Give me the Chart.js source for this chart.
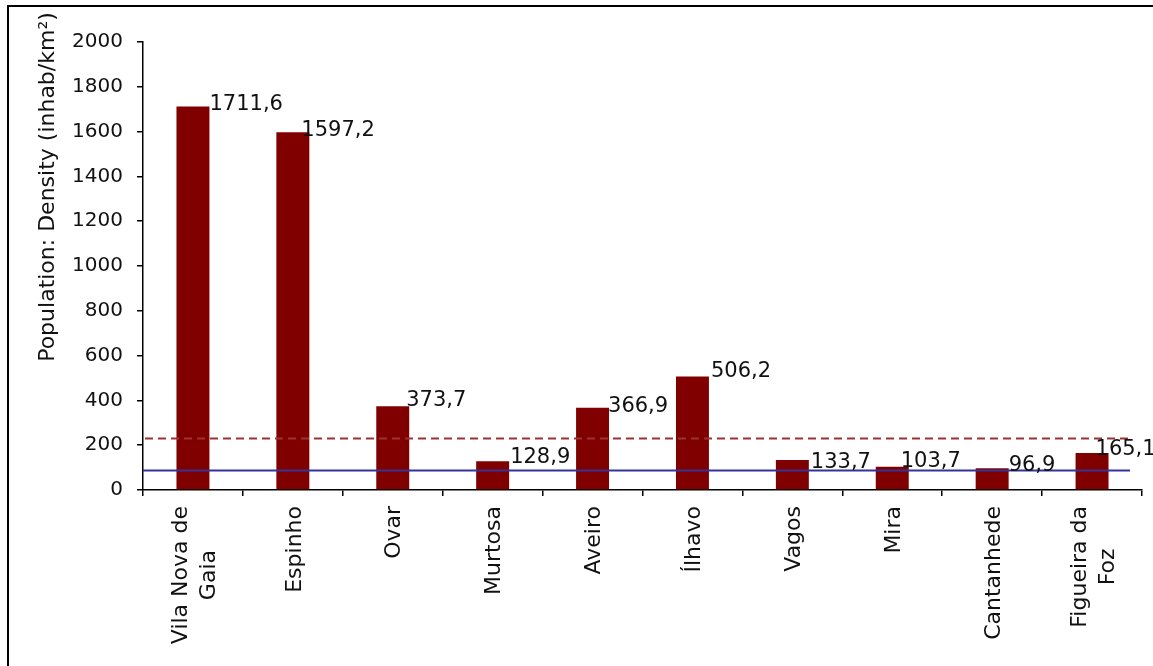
<!DOCTYPE html>
<html>
<head>
<meta charset="utf-8">
<script src="https://cdn.jsdelivr.net/npm/chart.js@4"></script>
<style>
  html, body { margin: 0; padding: 0; background: #fff; }
  canvas { display: block; }
</style>
</head>
<body>
<canvas id="c" width="1153" height="666" style="width:1153px;height:666px"></canvas>
<script>
// ---- data ----
const categories = [
  ['Vila Nova de', 'Gaia'], 'Espinho', 'Ovar', 'Murtosa', 'Aveiro',
  'Ílhavo', 'Vagos', 'Mira', 'Cantanhede', ['Figueira da', 'Foz']
];
const densityValues = [1711.6, 1597.2, 373.7, 128.9, 366.9, 506.2, 133.7, 103.7, 96.9, 165.1];
const valueLabels = ['1711,6', '1597,2', '373,7', '128,9', '366,9', '506,2', '133,7', '103,7', '96,9', '165,1'];
const yTickValues = [0, 200, 400, 600, 800, 1000, 1200, 1400, 1600, 1800, 2000];
const dashedRefValue = [232];
const solidRefValue = [89];
const yTitle = 'Population: Density (inhab/km²)';

const FONT = '"DejaVu Sans", Verdana, sans-serif';
Chart.defaults.font.family = FONT;
Chart.defaults.color = '#000';

const framePlugin = {
  id: 'frame',
  beforeDraw(chart) {
    const ctx = chart.ctx;
    ctx.save();
    ctx.fillStyle = '#fff';
    ctx.fillRect(0, 0, chart.width, chart.height);
    ctx.fillStyle = '#000';
    ctx.fillRect(7, 5, chart.width - 7, 2);
    ctx.fillRect(7, 5, 2, chart.height - 5);
    // y title
    ctx.translate(48, 187);
    ctx.rotate(-Math.PI / 2);
    ctx.font = '22px ' + FONT;
    ctx.textAlign = 'center';
    ctx.textBaseline = 'middle';
    ctx.fillStyle = '#111';
    ctx.fillText(yTitle, 0, 0);
    ctx.restore();
  }
};

const refLinesPlugin = {
  id: 'refLines',
  afterDatasetsDraw(chart) {
    const ctx = chart.ctx;
    const y = chart.scales.y;
    const a = chart.chartArea;
    const right = a.right - 12;
    ctx.save();
    ctx.lineWidth = 2;
    dashedRefValue.forEach(v => {
      const py = Math.round(y.getPixelForValue(v)) + 0.5;
      ctx.strokeStyle = '#993333';
      ctx.setLineDash([8, 5]);
      ctx.beginPath(); ctx.moveTo(a.left + 2, py); ctx.lineTo(right, py); ctx.stroke();
    });
    solidRefValue.forEach(v => {
      const py = Math.round(y.getPixelForValue(v)) + 0.5;
      ctx.strokeStyle = '#333399';
      ctx.setLineDash([]);
      ctx.beginPath(); ctx.moveTo(a.left, py); ctx.lineTo(right, py); ctx.stroke();
    });
    ctx.restore();
  }
};

// value labels, placed to the upper right of each bar (small manual nudges as in the original)
const valueLabelPlugin = {
  id: 'valueLabels',
  afterDraw(chart, args, opts) {
    const ctx = chart.ctx;
    const meta = chart.getDatasetMeta(0);
    ctx.save();
    ctx.font = '21px ' + FONT;
    ctx.fillStyle = '#111';
    ctx.textAlign = 'left';
    ctx.textBaseline = 'alphabetic';
    meta.data.forEach((bar, i) => {
      const p = bar.getProps(['x', 'y', 'width'], true);
      const n = opts.nudges[i] || [0, 3];
      ctx.fillText(valueLabels[i], p.x + p.width / 2 + n[0], p.y + n[1]);
    });
    ctx.restore();
  }
};

// rotated category labels below the x axis (lines centred on each other, block top-aligned)
const xLabelPlugin = {
  id: 'xLabels',
  afterDraw(chart) {
    const ctx = chart.ctx;
    const xs = chart.scales.x;
    const top = chart.chartArea.bottom + 16;
    const lh = 28;
    ctx.save();
    ctx.font = '22px ' + FONT;
    ctx.fillStyle = '#111';
    ctx.textAlign = 'center';
    ctx.textBaseline = 'middle';
    categories.forEach((lab, i) => {
      const lines = Array.isArray(lab) ? lab : [lab];
      const maxW = Math.max(...lines.map(t => ctx.measureText(t).width));
      const cx = xs.getPixelForValue(i) + 2;
      const cy = top + maxW / 2;
      lines.forEach((t, k) => {
        const off = (k - (lines.length - 1) / 2) * lh;
        ctx.save();
        ctx.translate(cx + off, cy);
        ctx.rotate(-Math.PI / 2);
        ctx.fillText(t, 0, 0);
        ctx.restore();
      });
    });
    ctx.restore();
  }
};

new Chart(document.getElementById('c'), {
  type: 'bar',
  data: {
    labels: categories,
    datasets: [{
      data: densityValues,
      backgroundColor: '#800000',
      borderWidth: 0,
      categoryPercentage: 1,
      barPercentage: 0.33
    }]
  },
  options: {
    responsive: false,
    animation: false,
    devicePixelRatio: 1,
    layout: { padding: { left: 0, top: 42, right: 11, bottom: 0 } },
    plugins: {
      legend: { display: false },
      tooltip: { enabled: false },
      valueLabels: {
        nudges: [[0, 3], [-8, 4], [-3, 0], [1, 2], [-1, 4], [2, 0], [2, 8], [-8, 0], [0, 3], [-13, 2]]
      }
    },
    scales: {
      x: {
        grid: { display: true, drawOnChartArea: false, drawTicks: true, tickLength: 6, color: '#000', lineWidth: 1.5, offset: true },
        border: { display: true, color: '#000', width: 1.5 },
        ticks: { display: false, autoSkip: false },
        afterFit(scale) { scale.height = 176; }
      },
      y: {
        min: 0, max: 2000,
        afterBuildTicks(scale) { scale.ticks = yTickValues.map(v => ({ value: v })); },
        grid: { display: true, drawOnChartArea: false, drawTicks: true, tickLength: 6, color: '#000', lineWidth: 1.5 },
        border: { display: true, color: '#000', width: 1.5 },
        ticks: { padding: 14, font: { size: 20 }, color: '#111', callback: v => String(v) },
        afterFit(scale) { scale.width = 143; }
      }
    }
  },
  plugins: [framePlugin, refLinesPlugin, valueLabelPlugin, xLabelPlugin]
});
</script>
</body>
</html>
